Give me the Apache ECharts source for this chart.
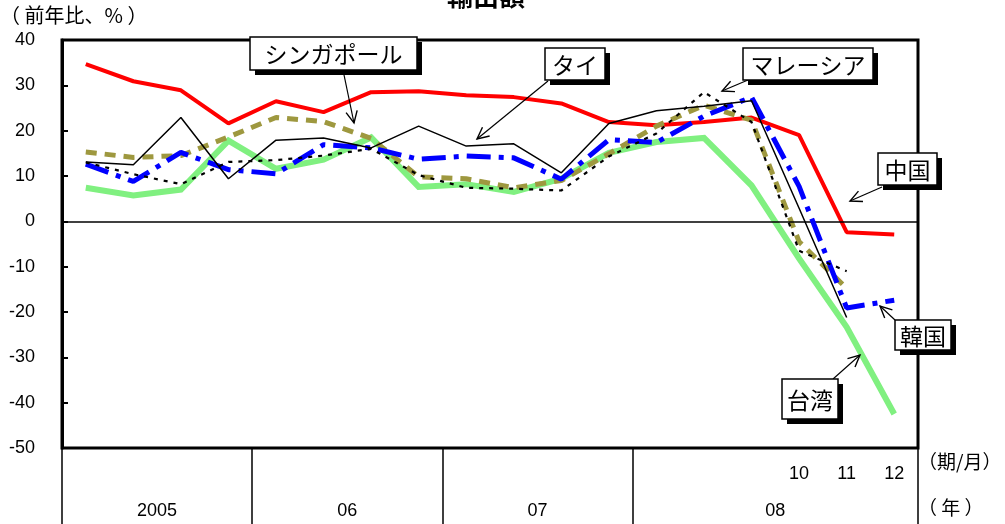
<!DOCTYPE html>
<html>
<head>
<meta charset="utf-8">
<script src="https://cdn.jsdelivr.net/npm/echarts@6/dist/echarts.min.js"></script>
<style>
  html, body { margin: 0; padding: 0; background: #fff; }
  #chart { width: 1005px; height: 524px; }
</style>
</head>
<body>
<div id="chart"></div>
<script>
// Export growth (year-on-year, %), quarterly 2005 Q1 - 2008 Q3, then monthly Oct-Dec 2008
const periods = [
  '2005/Q1', '2005/Q2', '2005/Q3', '2005/Q4',
  '2006/Q1', '2006/Q2', '2006/Q3', '2006/Q4',
  '2007/Q1', '2007/Q2', '2007/Q3', '2007/Q4',
  '2008/Q1', '2008/Q2', '2008/Q3',
  '2008/10', '2008/11', '2008/12'
];
const years = ['2005', '06', '07', '08'];
const yearSpans = [4, 4, 4, 6];          // number of periods in each year block
const yTicks = { min: -50, max: 40, step: 10 };

const china     = [34.7, 30.9, 28.9, 21.6, 26.5, 24.1, 28.5, 28.7, 27.8, 27.4, 26.0, 21.9, 21.2, 21.9, 22.9, 19.0, -2.4, -2.9];
const thailand  = [13.1, 12.5, 22.9, 9.4, 17.9, 18.4, 16.2, 21.0, 16.6, 17.1, 10.7, 21.6, 24.4, 25.4, 26.6, 2.9, -21.2, null];
const korea     = [12.6, 8.8, 15.2, 11.4, 10.5, 16.9, 16.2, 13.7, 14.4, 14.0, 9.3, 18.0, 17.4, 23.2, 27.4, 7.7, -19.1, -17.4];
const singapore = [15.3, 14.1, 14.5, 18.6, 22.9, 22.0, 18.3, 9.8, 9.4, 7.4, 9.0, 14.9, 21.0, 25.6, 22.3, -4.5, -14.8, null];
const malaysia  = [13.0, 10.4, 8.2, 13.1, 13.5, 14.5, 16.0, 10.2, 7.4, 7.2, 6.8, 14.3, 19.4, 28.5, 21.9, -6.5, -11.0, null];
const taiwan    = [7.4, 5.7, 7.0, 17.8, 11.6, 13.6, 18.5, 7.6, 8.2, 6.5, 9.4, 15.1, 17.5, 18.4, 7.9, -8.2, -23.3, -42.5];

// year block boundaries and centres on a 0..N value scale
const yearBounds = [0];
yearSpans.forEach(s => yearBounds.push(yearBounds[yearBounds.length - 1] + s));
const yearCentres = years.map((_, i) => (yearBounds[i] + yearBounds[i + 1]) / 2);

const LATIN = '"Liberation Sans", Arial, sans-serif';
const CJK = '"Noto Sans CJK JP", "Noto Sans", sans-serif';

// callout boxes: label, box [x, y, w, h], leader arrow [fromX, fromY, toX, toY]
const callouts = [
  { text: 'シンガポール', box: [250, 37, 167, 33], arrow: [343, 70, 354, 123] },
  { text: 'タイ',         box: [545, 48, 60, 32],  arrow: [548, 81, 477, 139] },
  { text: 'マレーシア',   box: [743, 48, 130, 32], arrow: [748, 80, 722, 91] },
  { text: '中国',         box: [878, 153, 59, 32], arrow: [882, 187, 850, 201] },
  { text: '韓国',         box: [895, 320, 56, 30], arrow: [895, 320, 880, 306] },
  { text: '台湾',         box: [782, 379, 56, 40], arrow: [833, 379, 860, 355] }
];

function calloutGraphics() {
  const out = [];
  callouts.forEach(c => {
    const [x, y, w, h] = c.box;
    out.push({ type: 'rect', shape: { x: x + 5, y: y + 5, width: w, height: h }, style: { fill: '#000' }, z: 100 });
    out.push({ type: 'rect', shape: { x, y, width: w, height: h }, style: { fill: '#fff', stroke: '#000', lineWidth: 1.5 }, z: 101 });
    out.push({ type: 'text', x: x + w / 2, y: y + h / 2 + 1, z: 102,
      style: { text: c.text, font: '23px ' + CJK, fill: '#000', textAlign: 'center', textVerticalAlign: 'middle' } });
    const [x1, y1, x2, y2] = c.arrow;
    const ang = Math.atan2(y2 - y1, x2 - x1);
    const L = 13, spread = 0.45;
    const a1 = [x2 - L * Math.cos(ang - spread), y2 - L * Math.sin(ang - spread)];
    const a2 = [x2 - L * Math.cos(ang + spread), y2 - L * Math.sin(ang + spread)];
    out.push({ type: 'line', shape: { x1, y1, x2, y2 }, style: { stroke: '#000', lineWidth: 1.2 }, z: 99 });
    out.push({ type: 'polyline', shape: { points: [a1, [x2, y2], a2] }, style: { stroke: '#000', lineWidth: 1.4, fill: null }, z: 99 });
  });
  return out;
}

const chart = echarts.init(document.getElementById('chart'), null, { renderer: 'canvas' });

chart.setOption({
  animation: false,
  backgroundColor: '#fff',
  grid: {
    left: 62, right: 87, top: 40, bottom: 76,
    show: true, borderColor: '#000', borderWidth: 3, backgroundColor: 'transparent'
  },
  xAxis: [
    {
      type: 'category',
      data: periods,
      boundaryGap: true,
      position: 'bottom',
      axisLine: { show: false },
      axisTick: { show: false },
      axisLabel: {
        interval: 0, margin: 17, color: '#000', fontFamily: LATIN, fontSize: 18,
        formatter: v => (/^\d{4}\/\d+$/.test(v) ? v.split('/')[1] : '')
      }
    },
    {
      type: 'value',
      min: 0, max: yearBounds[yearBounds.length - 1],
      position: 'bottom',
      axisLine: { show: false },
      splitLine: { show: false },
      axisTick: { show: true, customValues: yearBounds, length: 76, lineStyle: { color: '#000', width: 1.5 } },
      axisLabel: {
        show: true, customValues: yearCentres, margin: 54, color: '#000', fontFamily: LATIN, fontSize: 18,
        formatter: v => { const i = yearCentres.indexOf(v); return i >= 0 ? years[i] : ''; }
      }
    }
  ],
  yAxis: {
    type: 'value',
    min: yTicks.min, max: yTicks.max, interval: yTicks.step,
    axisLine: { show: true, lineStyle: { color: '#000', width: 3 } },
    axisTick: { show: true, inside: true, length: 6, lineStyle: { color: '#000', width: 2 } },
    axisLabel: { color: '#000', fontFamily: LATIN, fontSize: 18, margin: 27 },
    splitLine: { show: false }
  },
  series: [
    {
      name: '台湾', type: 'line', data: taiwan, symbol: 'none', z: 2,
      lineStyle: { color: '#80f080', width: 6, join: 'miter' },
      markLine: {
        silent: true, symbol: ['none', 'none'], label: { show: false },
        lineStyle: { color: '#000', width: 1.5, type: 'solid' },
        data: [{ yAxis: 0 }]
      }
    },
    {
      name: '中国', type: 'line', data: china, symbol: 'none', z: 3,
      lineStyle: { color: '#ff0000', width: 4 }
    },
    {
      name: 'シンガポール', type: 'line', data: singapore, symbol: 'none', z: 4,
      lineStyle: { color: '#9e983f', width: 5, type: [11, 8], cap: 'butt' }
    },
    {
      name: '韓国', type: 'line', data: korea, symbol: 'none', z: 5,
      lineStyle: { color: '#0000ff', width: 5, type: [24, 8, 5, 8], cap: 'butt' }
    },
    {
      name: 'マレーシア', type: 'line', data: malaysia, symbol: 'none', z: 6,
      lineStyle: { color: '#000', width: 2.2, type: [4, 6], cap: 'butt' }
    },
    {
      name: 'タイ', type: 'line', data: thailand, symbol: 'none', z: 7,
      lineStyle: { color: '#000', width: 1.5 }
    }
  ],
  graphic: [
    { type: 'text', x: 486, y: -4, z: 110,
      style: { text: '輸出額', font: 'bold 26px ' + CJK, fill: '#000', textAlign: 'center', textVerticalAlign: 'middle' } },
    { type: 'text', x: 0, y: 15, z: 110,
      style: { text: '（ 前年比、% ）', font: '20px ' + CJK, fill: '#000', textAlign: 'left', textVerticalAlign: 'middle' } },
    { type: 'text', x: 918, y: 462, z: 110,
      style: { text: '（期/月）', font: '19px ' + CJK, fill: '#000', textAlign: 'left', textVerticalAlign: 'middle' } },
    { type: 'text', x: 918, y: 508, z: 110,
      style: { text: '（ 年 ）', font: '19px ' + CJK, fill: '#000', textAlign: 'left', textVerticalAlign: 'middle' } }
  ].concat(calloutGraphics())
});
</script>
</body>
</html>
